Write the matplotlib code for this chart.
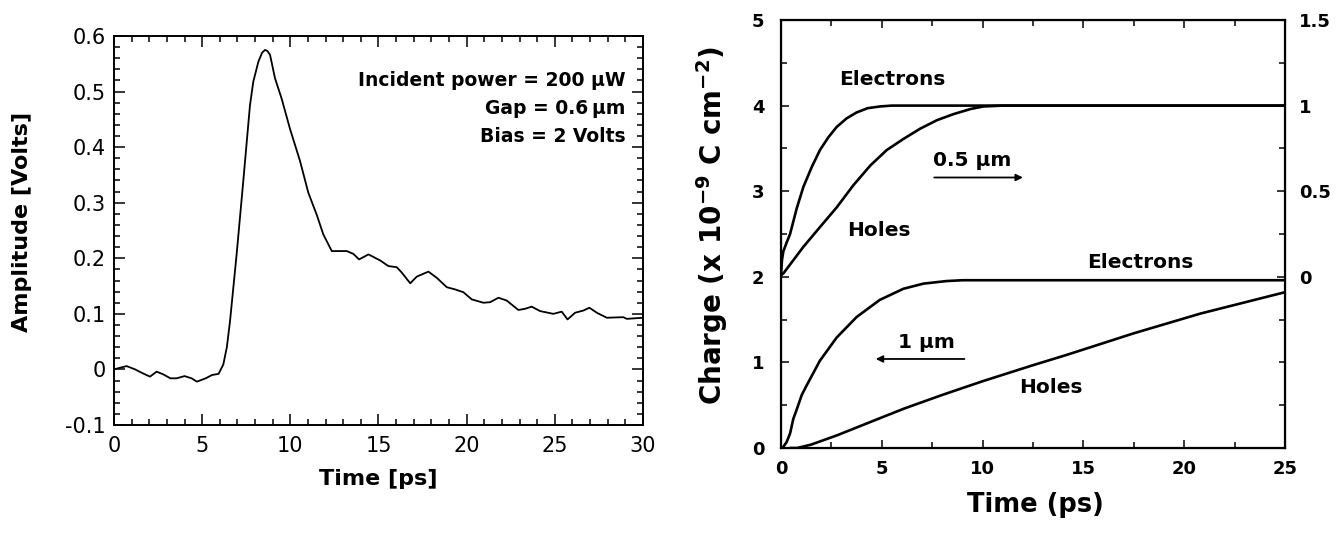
import matplotlib
matplotlib.use("Agg")
import matplotlib.pyplot as plt
from matplotlib.ticker import MultipleLocator, FixedLocator

plt.rcParams['font.family'] = ['DejaVu Sans']
plt.rcParams['mathtext.fontset'] = 'dejavusans'
plt.rcParams['mathtext.default'] = 'bf'

# ---------------- Left panel data: photoconductive pulse ----------------
pulse_t = [0, 0.34, 0.72, 1.2, 1.57, 2.04, 2.42, 2.8, 3.2, 3.55, 4.0, 4.4, 4.7,
           5.2, 5.56, 5.93, 6.2, 6.4, 6.58, 6.96, 7.34, 7.71, 7.9, 8.19, 8.4,
           8.57, 8.7, 8.85, 9.13, 9.51, 9.98, 10.55, 11.02, 11.5, 11.87, 12.35,
           13.2, 13.57, 13.9, 14.43, 15.1, 15.56, 16.03, 16.3, 16.8, 17.17,
           17.83, 18.3, 18.87, 19.34, 19.81, 20.29, 20.95, 21.33, 21.8, 22.27,
           22.93, 23.3, 23.69, 24.16, 24.92, 25.39, 25.72, 26.15, 26.62, 26.96,
           27.38, 27.95, 28.89, 29.08, 30.0]
pulse_v = [0, 0.003, 0.006, 0, -0.006, -0.013, -0.004, -0.009, -0.016, -0.016,
           -0.012, -0.016, -0.022, -0.016, -0.010, -0.008, 0.009, 0.04, 0.087,
           0.209, 0.342, 0.475, 0.518, 0.554, 0.570, 0.575, 0.573, 0.566, 0.524,
           0.487, 0.433, 0.375, 0.318, 0.278, 0.243, 0.213, 0.213, 0.208, 0.198,
           0.207, 0.196, 0.186, 0.184, 0.175, 0.155, 0.167, 0.176, 0.165, 0.148,
           0.144, 0.139, 0.126, 0.12, 0.121, 0.129, 0.124, 0.107, 0.109, 0.113,
           0.105, 0.1, 0.104, 0.09, 0.102, 0.106, 0.111, 0.102, 0.093, 0.094,
           0.091, 0.093]
pulse_notes = ["Incident power = 200 \u00b5W", "Gap = 0.6\u2009\u00b5m", "Bias = 2 Volts"]

# ---------------- Right panel data: collected charge ----------------
e05_t = [0, 0.05, 0.12, 0.28, 0.45, 0.78, 1.11, 1.52, 1.93, 2.35, 2.76, 3.25,
         3.75, 4.3, 4.91, 5.5, 6.5, 25]
e05_q = [2.02, 2.2, 2.3, 2.4, 2.5, 2.8, 3.05, 3.28, 3.48, 3.63, 3.75, 3.85,
         3.92, 3.97, 3.99, 4.0, 4.0, 4.0]
h05_t = [0, 0.12, 1.11, 1.93, 2.76, 3.59, 4.43, 5.24, 6.07, 6.9, 7.74, 8.55,
         9.4, 10.04, 11, 25]
h05_q = [2.02, 2.04, 2.35, 2.58, 2.81, 3.07, 3.30, 3.48, 3.61, 3.73, 3.83,
         3.90, 3.96, 3.99, 4.0, 4.0]
e1_t = [0, 0.12, 0.28, 0.45, 0.61, 0.78, 1.03, 1.27, 1.93, 2.76, 3.75, 4.9,
        6.07, 7.06, 8.2, 9.0, 25]
e1_q = [0, 0.015, 0.07, 0.17, 0.34, 0.45, 0.62, 0.73, 1.02, 1.29, 1.53, 1.73,
        1.86, 1.92, 1.95, 1.96, 1.96]
h1_t = [0.5, 0.8, 1.5, 2.8, 4.5, 6.1, 8.0, 10.0, 12.4, 14.2, 17.5, 20.8, 25]
h1_q = [0, 0, 0.04, 0.15, 0.31, 0.46, 0.62, 0.78, 0.96, 1.09, 1.34, 1.57, 1.82]

FIG_W, FIG_H = 1342, 540
fig = plt.figure(figsize=(FIG_W / 100, FIG_H / 100), dpi=100)

def frac_box(x0, x1, ytop, ybot):
    return [x0 / FIG_W, 1 - ybot / FIG_H, (x1 - x0) / FIG_W, (ybot - ytop) / FIG_H]

# ================= Left panel =================
ax1 = fig.add_axes(frac_box(114, 643, 36, 425))
ax1.plot(pulse_t, pulse_v, color='black', lw=1.3)
ax1.set_xlim(0, 30)
ax1.set_ylim(-0.1, 0.6)
ax1.xaxis.set_minor_locator(MultipleLocator(1))
ax1.yaxis.set_minor_locator(MultipleLocator(0.02))
ax1.set_xticks([0, 5, 10, 15, 20, 25, 30])
ax1.set_xticklabels(['0', '5', '10', '15', '20', '25', '30'])
ax1.set_yticks([-0.1, 0, 0.1, 0.2, 0.3, 0.4, 0.5, 0.6])
ax1.set_yticklabels(['-0.1', '0', '0.1', '0.2', '0.3', '0.4', '0.5', '0.6'])
ax1.tick_params(which='both', direction='in', top=True, right=True,
                width=1.1, labelsize=15)
ax1.tick_params(which='major', length=8)
ax1.tick_params(which='minor', length=4)
ax1.tick_params(axis='x', pad=8)
ax1.tick_params(axis='y', pad=6)
for sp in ax1.spines.values():
    sp.set_linewidth(1.4)
ax1.set_xlabel('Time [ps]', fontsize=16, fontweight='bold')
ax1.xaxis.set_label_coords(0.499, -0.14)
ax1.xaxis.label.set_verticalalignment('center')
ax1.set_ylabel('Amplitude [Volts]', fontsize=16, fontweight='bold')
ax1.yaxis.set_label_coords(-0.174, 0.522)
ax1.yaxis.label.set_verticalalignment('center')

note_y = [0.52, 0.47, 0.42]
for txt, yy in zip(pulse_notes, note_y):
    ax1.text(29.0, yy, txt, ha='right', va='center', fontsize=13.5,
             fontweight='bold')

# ================= Right panel =================
ax2 = fig.add_axes(frac_box(781, 1285, 20, 448))
lw = 1.9
ax2.plot(e05_t, e05_q, color='black', lw=lw)
ax2.plot(h05_t, h05_q, color='black', lw=lw)
ax2.plot(e1_t, e1_q, color='black', lw=lw)
ax2.plot(h1_t, h1_q, color='black', lw=lw)
ax2.set_xlim(0, 25)
ax2.set_ylim(0, 5)
ax2.xaxis.set_major_locator(MultipleLocator(5))
ax2.xaxis.set_minor_locator(MultipleLocator(2.5))
ax2.yaxis.set_major_locator(MultipleLocator(1))
ax2.yaxis.set_minor_locator(MultipleLocator(0.5))
ax2.tick_params(which='both', direction='in', top=True, right=False,
                width=1.1, labelsize=13)
ax2.tick_params(which='major', length=6)
ax2.tick_params(which='minor', length=4)
ax2.tick_params(axis='x', pad=9)
ax2.tick_params(axis='y', pad=12)
for lab in ax2.get_xticklabels() + ax2.get_yticklabels():
    lab.set_fontweight('bold')
for sp in ax2.spines.values():
    sp.set_linewidth(1.6)

tw = ax2.twinx()
tw.set_ylim(-1, 1.5)
tw.yaxis.set_major_locator(FixedLocator([0, 0.5, 1, 1.5]))
tw.yaxis.set_minor_locator(FixedLocator([-0.75, -0.5, -0.25, 0.25, 0.75, 1.25]))
tw.set_yticklabels(['0', '0.5', '1', '1.5'])
tw.tick_params(which='both', direction='in', width=1.1, labelsize=13, pad=10)
tw.tick_params(which='major', length=6)
tw.tick_params(which='minor', length=4)
for lab in tw.get_yticklabels():
    lab.set_fontweight('bold')

ax2.set_xlabel('Time (ps)', fontsize=18.5, fontweight='bold')
ax2.xaxis.set_label_coords(0.504, -0.133)
ax2.xaxis.label.set_verticalalignment('center')
ax2.set_ylabel(r'Charge (x 10$^{-9}$ C cm$^{-2}$)', fontsize=20,
               fontweight='bold')
ax2.yaxis.set_label_coords(-0.137, 0.52)
ax2.yaxis.label.set_verticalalignment('center')

lab_kw = dict(ha='center', va='center', fontsize=14.5, fontweight='bold')
ax2.text(5.5, 4.30, 'Electrons', **lab_kw)
ax2.text(4.85, 2.54, 'Holes', **lab_kw)
ax2.text(9.5, 3.36, '0.5 \u00b5m', **lab_kw)
ax2.text(17.8, 2.17, 'Electrons', **lab_kw)
ax2.text(7.2, 1.23, '1 \u00b5m', **lab_kw)
ax2.text(13.4, 0.71, 'Holes', **lab_kw)

arrow_kw = dict(arrowstyle='-|>', color='black', lw=1.3,
                mutation_scale=10, shrinkA=0, shrinkB=0)
ax2.annotate('', xy=(12.0, 3.16), xytext=(7.6, 3.16), arrowprops=arrow_kw)
ax2.annotate('', xy=(4.7, 1.04), xytext=(9.1, 1.04), arrowprops=arrow_kw)

fig.savefig('out.png', dpi=100)
